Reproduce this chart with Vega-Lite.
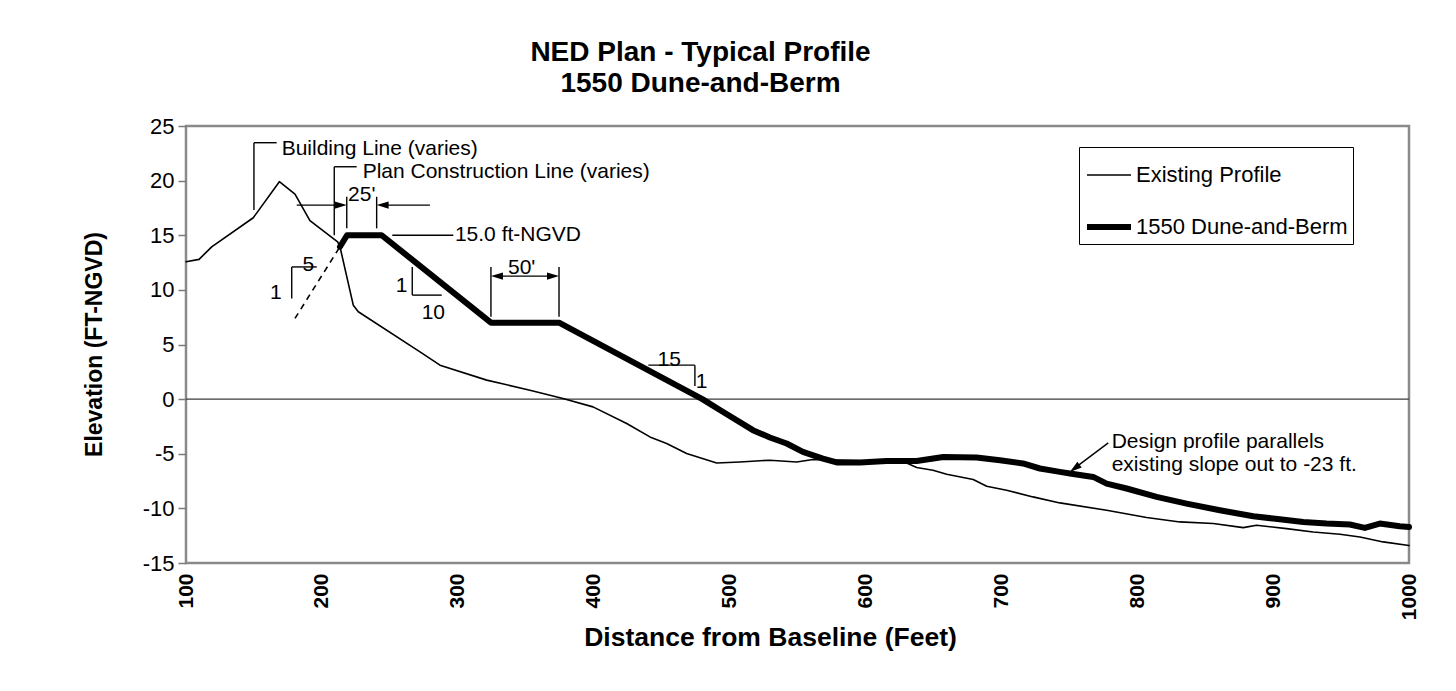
{
  "$schema": "https://vega.github.io/schema/vega-lite/v6.json",
  "width": 1223,
  "height": 437,
  "autosize": {"type": "none"},
  "padding": {"left": 186, "top": 126, "right": 47, "bottom": 128},
  "background": "white",
  "config": {
    "font": "Liberation Sans",
    "view": {"stroke": "#8a8a8a", "strokeWidth": 2.5}
  },
  "title": {
    "text": ["NED Plan - Typical Profile", "1550 Dune-and-Berm"],
    "fontSize": 28,
    "fontWeight": "bold",
    "font": "Liberation Sans",
    "color": "black",
    "anchor": "middle",
    "dx": -97,
    "offset": 17,
    "lineHeight": 31
  },
  "datasets": {
    "profiles": [
      {"series": "Existing Profile", "x": 100, "y": 12.57},
      {"series": "Existing Profile", "x": 109.6, "y": 12.79},
      {"series": "Existing Profile", "x": 118.9, "y": 13.94},
      {"series": "Existing Profile", "x": 149.5, "y": 16.6},
      {"series": "Existing Profile", "x": 168.7, "y": 19.9},
      {"series": "Existing Profile", "x": 180.2, "y": 18.77},
      {"series": "Existing Profile", "x": 191.2, "y": 16.33},
      {"series": "Existing Profile", "x": 211.6, "y": 14.4},
      {"series": "Existing Profile", "x": 213.3, "y": 13.95},
      {"series": "Existing Profile", "x": 223.1, "y": 8.6},
      {"series": "Existing Profile", "x": 226.8, "y": 8.0},
      {"series": "Existing Profile", "x": 272.2, "y": 4.33},
      {"series": "Existing Profile", "x": 286.9, "y": 3.11},
      {"series": "Existing Profile", "x": 321.3, "y": 1.74},
      {"series": "Existing Profile", "x": 353.1, "y": 0.82},
      {"series": "Existing Profile", "x": 377.4, "y": 0.06},
      {"series": "Existing Profile", "x": 399.5, "y": -0.71},
      {"series": "Existing Profile", "x": 424.3, "y": -2.23},
      {"series": "Existing Profile", "x": 441.4, "y": -3.46},
      {"series": "Existing Profile", "x": 453.7, "y": -4.06},
      {"series": "Existing Profile", "x": 468.4, "y": -4.98},
      {"series": "Existing Profile", "x": 490.5, "y": -5.84},
      {"series": "Existing Profile", "x": 507.7, "y": -5.75},
      {"series": "Existing Profile", "x": 529.7, "y": -5.59},
      {"series": "Existing Profile", "x": 549.4, "y": -5.75},
      {"series": "Existing Profile", "x": 561.4, "y": -5.53},
      {"series": "Existing Profile", "x": 585, "y": -5.6},
      {"series": "Existing Profile", "x": 610, "y": -5.7},
      {"series": "Existing Profile", "x": 630.3, "y": -5.84},
      {"series": "Existing Profile", "x": 637.7, "y": -6.26},
      {"series": "Existing Profile", "x": 649.7, "y": -6.51},
      {"series": "Existing Profile", "x": 659.8, "y": -6.87},
      {"series": "Existing Profile", "x": 679.3, "y": -7.36},
      {"series": "Existing Profile", "x": 689.2, "y": -7.97},
      {"series": "Existing Profile", "x": 703.9, "y": -8.34},
      {"series": "Existing Profile", "x": 723.3, "y": -8.95},
      {"series": "Existing Profile", "x": 743.1, "y": -9.5},
      {"series": "Existing Profile", "x": 777.5, "y": -10.17},
      {"series": "Existing Profile", "x": 806.9, "y": -10.84},
      {"series": "Existing Profile", "x": 831.4, "y": -11.24},
      {"series": "Existing Profile", "x": 855.9, "y": -11.39},
      {"series": "Existing Profile", "x": 878, "y": -11.76},
      {"series": "Existing Profile", "x": 887.8, "y": -11.55},
      {"series": "Existing Profile", "x": 909.9, "y": -11.85},
      {"series": "Existing Profile", "x": 929.5, "y": -12.16},
      {"series": "Existing Profile", "x": 949.2, "y": -12.37},
      {"series": "Existing Profile", "x": 963.9, "y": -12.62},
      {"series": "Existing Profile", "x": 981, "y": -13.07},
      {"series": "Existing Profile", "x": 1000, "y": -13.4},
      {"series": "1550 Dune-and-Berm", "x": 213.3, "y": 13.95},
      {"series": "1550 Dune-and-Berm", "x": 218.5, "y": 15},
      {"series": "1550 Dune-and-Berm", "x": 244, "y": 15},
      {"series": "1550 Dune-and-Berm", "x": 324.4, "y": 7},
      {"series": "1550 Dune-and-Berm", "x": 374.5, "y": 7},
      {"series": "1550 Dune-and-Berm", "x": 480, "y": 0},
      {"series": "1550 Dune-and-Berm", "x": 492.9, "y": -1.0},
      {"series": "1550 Dune-and-Berm", "x": 517.2, "y": -2.84},
      {"series": "1550 Dune-and-Berm", "x": 529.7, "y": -3.51},
      {"series": "1550 Dune-and-Berm", "x": 542, "y": -4.06},
      {"series": "1550 Dune-and-Berm", "x": 554, "y": -4.83},
      {"series": "1550 Dune-and-Berm", "x": 568.7, "y": -5.44},
      {"series": "1550 Dune-and-Berm", "x": 578.8, "y": -5.8},
      {"series": "1550 Dune-and-Berm", "x": 596, "y": -5.8},
      {"series": "1550 Dune-and-Berm", "x": 615.6, "y": -5.66},
      {"series": "1550 Dune-and-Berm", "x": 637.7, "y": -5.66},
      {"series": "1550 Dune-and-Berm", "x": 657.2, "y": -5.29},
      {"series": "1550 Dune-and-Berm", "x": 681.8, "y": -5.34},
      {"series": "1550 Dune-and-Berm", "x": 699, "y": -5.59},
      {"series": "1550 Dune-and-Berm", "x": 715.9, "y": -5.89},
      {"series": "1550 Dune-and-Berm", "x": 728.4, "y": -6.35},
      {"series": "1550 Dune-and-Berm", "x": 743.1, "y": -6.66},
      {"series": "1550 Dune-and-Berm", "x": 750.5, "y": -6.81},
      {"series": "1550 Dune-and-Berm", "x": 767.6, "y": -7.12},
      {"series": "1550 Dune-and-Berm", "x": 777.5, "y": -7.73},
      {"series": "1550 Dune-and-Berm", "x": 792.2, "y": -8.18},
      {"series": "1550 Dune-and-Berm", "x": 814.3, "y": -8.95},
      {"series": "1550 Dune-and-Berm", "x": 836.3, "y": -9.56},
      {"series": "1550 Dune-and-Berm", "x": 860.8, "y": -10.17},
      {"series": "1550 Dune-and-Berm", "x": 885.4, "y": -10.72},
      {"series": "1550 Dune-and-Berm", "x": 900.1, "y": -10.93},
      {"series": "1550 Dune-and-Berm", "x": 922.2, "y": -11.24},
      {"series": "1550 Dune-and-Berm", "x": 939.4, "y": -11.39},
      {"series": "1550 Dune-and-Berm", "x": 956.5, "y": -11.48},
      {"series": "1550 Dune-and-Berm", "x": 967.5, "y": -11.79},
      {"series": "1550 Dune-and-Berm", "x": 978.5, "y": -11.39},
      {"series": "1550 Dune-and-Berm", "x": 993.2, "y": -11.64},
      {"series": "1550 Dune-and-Berm", "x": 1000, "y": -11.7}
    ],
    "zeroLine": [{"x": 100, "y": 0, "x2": 1000, "y2": 0}],
    "dashed": [{"x": 180.2, "y": 7.39}, {"x": 213.3, "y": 13.95}],
    "leaders": [
      {"x": 150, "y": 17.3, "x2": 150, "y2": 23.47},
      {"x": 150, "y": 23.47, "x2": 166.7, "y2": 23.47},
      {"x": 209.1, "y": 15.0, "x2": 209.1, "y2": 21.27},
      {"x": 209.1, "y": 21.27, "x2": 225.6, "y2": 21.27},
      {"x": 181.5, "y": 17.76, "x2": 214, "y2": 17.76},
      {"x": 279.5, "y": 17.76, "x2": 244.5, "y2": 17.76},
      {"x": 218.3, "y": 15.63, "x2": 218.3, "y2": 18.52},
      {"x": 240.3, "y": 15.63, "x2": 240.3, "y2": 18.52},
      {"x": 251.8, "y": 15.0, "x2": 296.7, "y2": 15.0},
      {"x": 177.8, "y": 9.22, "x2": 177.8, "y2": 12.1},
      {"x": 177.8, "y": 12.1, "x2": 196.2, "y2": 12.1},
      {"x": 266.5, "y": 12.1, "x2": 266.5, "y2": 9.52},
      {"x": 266.5, "y": 9.52, "x2": 288.2, "y2": 9.52},
      {"x": 324.4, "y": 7.53, "x2": 324.4, "y2": 12.1},
      {"x": 374.5, "y": 7.53, "x2": 374.5, "y2": 12.1},
      {"x": 327, "y": 11.26, "x2": 372, "y2": 11.26},
      {"x": 440.2, "y": 3.11, "x2": 474.5, "y2": 3.11},
      {"x": 474.5, "y": 3.11, "x2": 474.5, "y2": 1.19},
      {"x": 778.7, "y": -4.0, "x2": 752, "y2": -6.5}
    ],
    "arrowsRight": [{"x": 218.3, "y": 17.76}, {"x": 374.5, "y": 11.26}],
    "arrowsLeft": [{"x": 240.3, "y": 17.76}, {"x": 324.4, "y": 11.26}],
    "arrowsDiag": [{"x": 750.5, "y": -6.66}],
    "textsLeft": [
      {"x": 170.4, "y": 22.87, "label": "Building Line (varies)"},
      {"x": 230, "y": 20.8, "label": "Plan Construction Line (varies)"},
      {"x": 297.9, "y": 15.0, "label": "15.0 ft-NGVD"}
    ],
    "textsNote": [
      {"x": 781.2, "y": -3.95, "label": "Design profile parallels"},
      {"x": 781.2, "y": -6.0, "label": "existing slope out to -23 ft."}
    ],
    "textsCenter": [
      {"x": 229.3, "y": 18.72, "label": "25'"},
      {"x": 190, "y": 12.27, "label": "5"},
      {"x": 166.2, "y": 9.73, "label": "1"},
      {"x": 258.7, "y": 10.37, "label": "1"},
      {"x": 282, "y": 7.85, "label": "10"},
      {"x": 347, "y": 11.97, "label": "50'"},
      {"x": 455.6, "y": 3.57, "label": "15"},
      {"x": 479.5, "y": 1.58, "label": "1"}
    ]
  },
  "encoding": {
    "x": {
      "field": "x",
      "type": "quantitative",
      "scale": {"domain": [100, 1000], "nice": false, "zero": false},
      "axis": {
        "title": "Distance from Baseline (Feet)",
        "values": [100, 200, 300, 400, 500, 600, 700, 800, 900, 1000],
        "labelExpr": "'' + datum.value",
        "domain": false,
        "ticks": false,
        "grid": false,
        "labelAngle": 270,
        "labelFontSize": 21,
        "labelFontWeight": "bold",
        "labelColor": "black",
        "labelPadding": 10,
        "labelOverlap": false,
        "labelFlush": false,
        "titleFontSize": 26.5,
        "titleFontWeight": "bold",
        "titleColor": "black",
        "titleX": 584,
        "titleY": 74,
        "titleAlign": "center",
        "titleBaseline": "middle"
      }
    },
    "y": {
      "field": "y",
      "type": "quantitative",
      "scale": {"domain": [-15, 25], "nice": false, "zero": false},
      "axis": {
        "title": "Elevation (FT-NGVD)",
        "values": [-15, -10, -5, 0, 5, 10, 15, 20, 25],
        "labelExpr": "'' + datum.value",
        "domain": false,
        "grid": false,
        "ticks": true,
        "tickSize": 8,
        "tickColor": "#7a7a7a",
        "tickWidth": 1.5,
        "labelFontSize": 22,
        "labelColor": "black",
        "labelPadding": 4,
        "labelOverlap": false,
        "labelFlush": false,
        "titleFontSize": 23,
        "titleFontWeight": "bold",
        "titleColor": "black",
        "titleX": -92,
        "titleY": 218,
        "titleAlign": "center",
        "titleBaseline": "middle"
      }
    }
  },
  "layer": [
    {
      "data": {"name": "zeroLine"},
      "mark": {"type": "rule", "color": "#3a3a3a", "strokeWidth": 1.2},
      "encoding": {"x2": {"field": "x2"}, "y2": {"field": "y2"}}
    },
    {
      "data": {"name": "dashed"},
      "mark": {"type": "line", "color": "black", "strokeWidth": 1.6, "strokeDash": [6, 5]},
      "encoding": {}
    },
    {
      "data": {"name": "leaders"},
      "mark": {"type": "rule", "color": "black", "strokeWidth": 1.4},
      "encoding": {"x2": {"field": "x2"}, "y2": {"field": "y2"}}
    },
    {
      "data": {"name": "arrowsRight"},
      "mark": {"type": "point", "filled": true, "color": "black", "opacity": 1, "shape": "M0,0L0.45,1.5L-0.45,1.5Z", "size": 256, "angle": 90},
      "encoding": {}
    },
    {
      "data": {"name": "arrowsLeft"},
      "mark": {"type": "point", "filled": true, "color": "black", "opacity": 1, "shape": "M0,0L0.45,1.5L-0.45,1.5Z", "size": 256, "angle": 270},
      "encoding": {}
    },
    {
      "data": {"name": "arrowsDiag"},
      "mark": {"type": "point", "filled": true, "color": "black", "opacity": 1, "shape": "M0,0L0.45,1.5L-0.45,1.5Z", "size": 256, "angle": 233},
      "encoding": {}
    },
    {
      "data": {"name": "profiles"},
      "mark": {"type": "line", "strokeJoin": "round", "strokeCap": "round"},
      "encoding": {
        "color": {
          "field": "series",
          "type": "nominal",
          "scale": {"domain": ["Existing Profile", "1550 Dune-and-Berm"], "range": ["black", "black"]},
          "legend": {
            "title": null,
            "orient": "none",
            "legendX": 893,
            "legendY": 21,
            "symbolType": "stroke",
            "symbolSize": 1936,
            "labelFontSize": 22,
            "labelColor": "black",
            "labelLimit": 400,
            "labelOffset": 2,
            "labelExpr": "datum.label + '    '",
            "padding": 5,
            "rowPadding": 16,
            "strokeColor": "black",
            "fillColor": "white"
          }
        },
        "strokeWidth": {
          "field": "series",
          "type": "ordinal",
          "scale": {"domain": ["Existing Profile", "1550 Dune-and-Berm"], "range": [1.6, 6]},
          "legend": {
            "title": null,
            "orient": "none",
            "legendX": 893,
            "legendY": 21,
            "symbolType": "stroke",
            "symbolSize": 1936,
            "labelFontSize": 22,
            "labelColor": "black",
            "labelLimit": 400,
            "labelOffset": 2,
            "labelExpr": "datum.label + '    '",
            "padding": 5,
            "rowPadding": 16,
            "strokeColor": "black",
            "fillColor": "white"
          }
        }
      }
    },
    {
      "data": {"name": "textsLeft"},
      "mark": {"type": "text", "align": "left", "baseline": "middle", "fontSize": 21, "color": "black"},
      "encoding": {"text": {"field": "label"}}
    },
    {
      "data": {"name": "textsNote"},
      "mark": {"type": "text", "align": "left", "baseline": "middle", "fontSize": 21, "color": "black"},
      "encoding": {"text": {"field": "label"}}
    },
    {
      "data": {"name": "textsCenter"},
      "mark": {"type": "text", "align": "center", "baseline": "middle", "fontSize": 21, "color": "black"},
      "encoding": {"text": {"field": "label"}}
    }
  ]
}
